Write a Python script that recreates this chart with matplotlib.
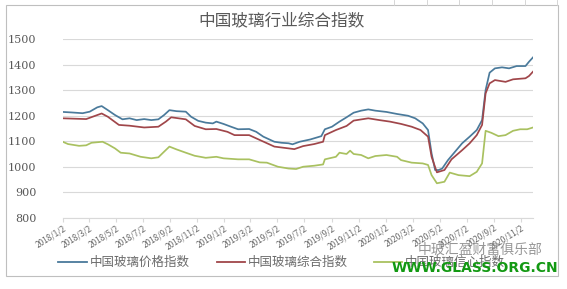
import matplotlib
matplotlib.use("Agg")
import matplotlib.pyplot as plt
import matplotlib.dates as mdates
import pandas as pd
from matplotlib.patches import Rectangle
from matplotlib.lines import Line2D

plt.rcParams['font.family'] = ['Noto Sans CJK SC', 'DejaVu Sans']

title = "中国玻璃行业综合指数"
series_names = ["中国玻璃价格指数", "中国玻璃综合指数", "中国玻璃信心指数"]

price_dates = ["2018-01-02", "2018-01-22", "2018-02-16", "2018-03-04", "2018-03-21", "2018-03-31",
               "2018-04-14", "2018-04-30", "2018-05-17", "2018-06-02", "2018-06-18", "2018-07-05",
               "2018-07-21", "2018-08-06", "2018-08-19", "2018-08-31", "2018-09-16", "2018-10-07",
               "2018-10-19", "2018-11-04", "2018-11-21", "2018-12-07", "2018-12-15", "2018-12-31",
               "2019-01-17", "2019-02-02", "2019-02-27", "2019-03-15", "2019-03-31", "2019-04-25",
               "2019-05-11", "2019-05-27", "2019-06-05", "2019-06-21", "2019-07-15", "2019-08-09",
               "2019-08-17", "2019-09-02", "2019-09-19", "2019-10-05", "2019-10-21", "2019-11-07",
               "2019-11-23", "2019-12-09", "2020-01-03", "2020-01-27", "2020-02-21", "2020-03-08",
               "2020-03-25", "2020-04-06", "2020-04-14", "2020-04-22", "2020-04-30", "2020-05-08",
               "2020-05-21", "2020-06-06", "2020-06-22", "2020-07-09", "2020-07-25", "2020-08-06",
               "2020-08-14", "2020-08-23", "2020-09-04", "2020-09-20", "2020-10-06", "2020-10-23",
               "2020-11-12", "2020-11-20", "2020-11-29"]
price_index = [1215, 1213, 1210, 1216, 1233, 1238,
               1222, 1203, 1186, 1190, 1183, 1187,
               1183, 1186, 1203, 1222, 1218, 1216,
               1196, 1180, 1173, 1170, 1177, 1168,
               1157, 1147, 1148, 1137, 1118, 1098,
               1094, 1092, 1088, 1098, 1107, 1120,
               1147, 1157, 1177, 1194, 1212, 1220,
               1225, 1220, 1215, 1207, 1200, 1190,
               1170, 1144, 1052, 987, 987, 993,
               1026, 1059, 1092, 1118, 1144, 1183,
               1301, 1369, 1386, 1390, 1386, 1395,
               1395, 1412, 1429]

comp_dates = ["2018-01-02", "2018-02-24", "2018-03-31", "2018-04-14", "2018-05-09", "2018-06-02",
              "2018-07-05", "2018-08-06", "2018-08-23", "2018-09-04", "2018-10-07", "2018-10-27",
              "2018-11-21", "2018-12-15", "2019-01-09", "2019-01-25", "2019-02-27", "2019-03-23",
              "2019-04-25", "2019-05-27", "2019-06-09", "2019-06-29", "2019-07-24", "2019-08-13",
              "2019-08-17", "2019-09-11", "2019-10-05", "2019-10-21", "2019-11-23", "2019-12-18",
              "2020-01-11", "2020-02-05", "2020-02-29", "2020-03-20", "2020-04-06", "2020-04-14",
              "2020-04-26", "2020-05-13", "2020-05-29", "2020-06-22", "2020-07-09", "2020-07-25",
              "2020-08-06", "2020-08-14", "2020-08-23", "2020-09-04", "2020-09-28", "2020-10-15",
              "2020-11-12", "2020-11-20", "2020-11-29"]
comp_index = [1190, 1187, 1209, 1196, 1164, 1161,
              1154, 1157, 1177, 1194, 1186, 1160,
              1147, 1148, 1137, 1124, 1124, 1105,
              1079, 1072, 1069, 1081, 1089, 1098,
              1124, 1144, 1160, 1181, 1190, 1183,
              1177, 1168, 1157, 1144, 1118, 1039,
              978, 987, 1029, 1065, 1092, 1124,
              1164, 1288, 1327, 1340, 1333, 1343,
              1347, 1356, 1373]

conf_dates = ["2018-01-02", "2018-01-14", "2018-02-08", "2018-02-24", "2018-03-08", "2018-04-02",
              "2018-04-14", "2018-04-30", "2018-05-13", "2018-06-02", "2018-06-27", "2018-07-21",
              "2018-08-06", "2018-08-19", "2018-08-31", "2018-09-16", "2018-10-07", "2018-10-27",
              "2018-11-21", "2018-12-15", "2018-12-31", "2019-02-02", "2019-02-27", "2019-03-23",
              "2019-04-08", "2019-05-03", "2019-05-27", "2019-06-13", "2019-06-29", "2019-07-24",
              "2019-08-13", "2019-08-17", "2019-09-11", "2019-09-19", "2019-10-05", "2019-10-13",
              "2019-10-21", "2019-11-07", "2019-11-23", "2019-12-09", "2020-01-03", "2020-01-27",
              "2020-02-05", "2020-02-29", "2020-03-25", "2020-04-06", "2020-04-14", "2020-04-26",
              "2020-05-13", "2020-05-25", "2020-06-14", "2020-07-09", "2020-07-25", "2020-08-06",
              "2020-08-14", "2020-08-27", "2020-09-12", "2020-09-28", "2020-10-15", "2020-10-31",
              "2020-11-16", "2020-11-29"]
conf_index = [1098, 1089, 1082, 1084, 1094, 1098,
              1088, 1072, 1055, 1052, 1039, 1033,
              1037, 1059, 1079, 1068, 1055, 1043,
              1035, 1039, 1033, 1029, 1029, 1017,
              1016, 1000, 993, 991, 1000, 1004,
              1009, 1029, 1039, 1055, 1050, 1063,
              1050, 1046, 1033, 1042, 1046, 1039,
              1026, 1016, 1013, 1007, 967, 935,
              941, 977, 967, 963, 980, 1013,
              1141, 1133, 1120, 1124, 1141, 1147,
              1147, 1154]

yticks = [800, 900, 1000, 1100, 1200, 1300, 1400, 1500]
colors = ["#4a7a9b", "#a0464a", "#a9c160"]

W, H = 567, 289
fig = plt.figure(figsize=(W / 100, H / 100), dpi=100)
fig.patch.set_facecolor("white")

# outer chart frame
fig.patches.append(Rectangle((5.5 / W, 1 - 276 / H), (557.5 - 5.5) / W, (276 - 5) / H,
                             transform=fig.transFigure, fill=False, edgecolor="#bfbfbf",
                             linewidth=0.8))
# spreadsheet cell lines peeking above the frame
for xp in [394, 427, 459, 492, 525, 557]:
    fig.add_artist(Line2D([xp / W, xp / W], [1 - 5 / H, 1.0], transform=fig.transFigure,
                          color="#d0d0d0", linewidth=0.6))

left, right = 62.7 / W, 533 / W
bottom, top = 1 - 217.7 / H, 1 - 39.3 / H
ax = fig.add_axes([left, bottom, right - left, top - bottom])

d_price = pd.to_datetime(price_dates)
d_comp = pd.to_datetime(comp_dates)
d_conf = pd.to_datetime(conf_dates)

ax.plot(d_price, price_index, color=colors[0], linewidth=1.25, zorder=3)
ax.plot(d_comp, comp_index, color=colors[1], linewidth=1.25, zorder=3)
ax.plot(d_conf, conf_index, color=colors[2], linewidth=1.25, zorder=3)

ax.set_ylim(800, 1500)
ax.set_yticks(yticks)
ax.set_xlim(pd.Timestamp("2018-01-02"), pd.Timestamp("2020-11-29"))
ax.grid(axis="y", color="#d9d9d9", linewidth=0.8)
ax.set_axisbelow(True)
for s in ["top", "right", "left"]:
    ax.spines[s].set_visible(False)
ax.spines["bottom"].set_color("#d9d9d9")
ax.spines["bottom"].set_linewidth(0.8)

ax.xaxis.set_major_locator(mdates.MonthLocator(bymonth=[1, 3, 5, 7, 9, 11], bymonthday=2))
ax.xaxis.set_major_formatter(plt.FuncFormatter(
    lambda v, p: (lambda d: f"{d.year}/{d.month}/{d.day}")(mdates.num2date(v))))
ax.tick_params(axis="x", length=3, color="#d9d9d9", labelsize=6, labelcolor="#6b6b6b", pad=1)
for lab in ax.get_xticklabels():
    lab.set_rotation(32)
    lab.set_ha("right")
    lab.set_rotation_mode("anchor")
ax.tick_params(axis="y", length=0, labelsize=8, labelcolor="#595959", pad=19)
for lab in ax.get_yticklabels():
    lab.set_fontfamily("DejaVu Serif")

fig.text(281 / W, 1 - 20.5 / H, title, ha="center", va="center", fontsize=12,
         color="#595959")

# legend (manual positions to match reference)
leg_y = 1 - 262 / H
for (x0, x1, xt, name, c) in [(58, 87, 90, series_names[0], colors[0]),
                              (217, 245, 248, series_names[1], colors[1]),
                              (374, 402, 405, series_names[2], colors[2])]:
    fig.add_artist(Line2D([x0 / W, x1 / W], [leg_y, leg_y], transform=fig.transFigure,
                          color=c, linewidth=1.3))
    fig.text(xt / W, leg_y, name, ha="left", va="center", fontsize=9, color="#6b6b6b")

# watermark
fig.text(480 / W, 1 - 250 / H, "中玻汇盈财富俱乐部", ha="center", va="center", fontsize=10,
         color="#8c8c8c", alpha=0.9, zorder=10)
fig.text(475 / W, 1 - 267.5 / H, "WWW.GLASS.ORG.CN", ha="center", va="center", fontsize=10,
         color="#139913", fontweight="bold", family="DejaVu Sans", zorder=11)

fig.savefig("out.png", dpi=100, facecolor="white")
